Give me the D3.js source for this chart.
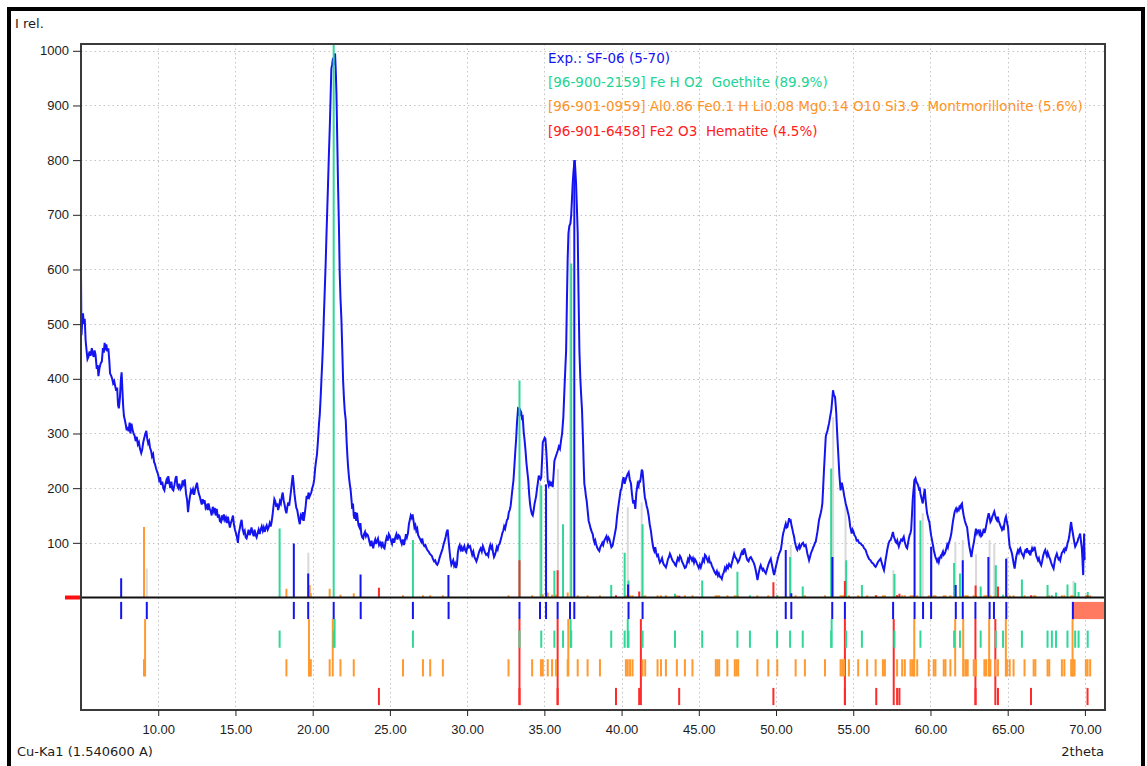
<!DOCTYPE html>
<html><head><meta charset="utf-8">
<script src="https://cdn.jsdelivr.net/npm/d3@7"></script>
<style>body{margin:0;background:#fff;}svg{display:block;font-family:"DejaVu Sans",Verdana,sans-serif;}</style>
</head><body><svg id="c" width="1147" height="766"></svg>
<script>
// ---------- DATA ----------
const xTicks = [10, 15, 20, 25, 30, 35, 40, 45, 50, 55, 60, 65, 70];
const yTicks = [100, 200, 300, 400, 500, 600, 700, 800, 900, 1000];
const legendLines = [
  "Exp.: SF-06 (5-70)",
  "[96-900-2159] Fe H O2  Goethite (89.9%)",
  "[96-901-0959] Al0.86 Fe0.1 H Li0.08 Mg0.14 O10 Si3.9  Montmorillonite (5.6%)",
  "[96-901-6458] Fe2 O3  Hematite (4.5%)"
];
const rowNames = ["peaks", "goethite", "montmorillonite", "hematite"];

// experimental pattern [2theta, I rel.]
const expPattern = [
[5.00,590],[5.03,480],[5.08,505],[5.13,520],[5.18,500],[5.24,510],[5.30,470],[5.36,452],[5.42,436],[5.48,440],[5.55,450],[5.62,442],[5.70,456],[5.76,446],[5.82,440],[5.88,452],[5.94,444],[6.02,418],[6.08,425],[6.13,405],[6.20,420],[6.27,428],[6.35,432],[6.42,456],[6.48,448],[6.53,466],[6.58,452],[6.64,463],[6.70,450],[6.77,456],[6.84,430],[6.88,410],[6.95,406],[7.02,400],[7.08,392],[7.15,396],[7.22,386],[7.28,378],[7.34,384],[7.40,352],[7.45,346],[7.52,365],[7.58,398],[7.63,412],[7.68,380],[7.73,350],[7.78,332],[7.83,326],[7.90,316],[7.96,306],[8.02,312],[8.08,304],[8.15,320],[8.20,300],[8.27,318],[8.33,308],[8.40,300],[8.47,296],[8.54,286],[8.61,294],[8.68,280],[8.75,284],[8.82,272],[8.90,264],[8.96,270],[9.03,284],[9.10,292],[9.17,300],[9.23,305],[9.29,290],[9.35,282],[9.41,286],[9.47,274],[9.54,268],[9.60,258],[9.67,262],[9.73,248],[9.79,244],[9.86,236],[9.93,230],[10.00,224],[10.06,215],[10.12,220],[10.19,206],[10.26,212],[10.33,200],[10.40,196],[10.46,206],[10.53,214],[10.59,208],[10.65,222],[10.72,210],[10.78,200],[10.85,212],[10.92,198],[10.98,196],[11.05,206],[11.12,218],[11.18,222],[11.24,204],[11.30,200],[11.37,208],[11.44,198],[11.52,202],[11.58,214],[11.65,208],[11.72,216],[11.80,190],[11.87,178],[11.93,156],[11.99,172],[12.06,186],[12.12,196],[12.18,192],[12.25,198],[12.32,188],[12.38,196],[12.45,204],[12.51,210],[12.57,198],[12.63,190],[12.70,184],[12.76,176],[12.82,170],[12.88,180],[12.94,172],[13.00,178],[13.07,164],[13.14,168],[13.20,160],[13.26,172],[13.33,162],[13.40,158],[13.46,150],[13.53,166],[13.60,158],[13.66,164],[13.72,150],[13.79,162],[13.86,146],[13.92,152],[13.99,140],[14.06,138],[14.12,150],[14.19,144],[14.25,152],[14.32,142],[14.38,146],[14.44,136],[14.51,148],[14.57,138],[14.64,128],[14.70,136],[14.77,142],[14.84,150],[14.90,134],[14.97,124],[15.03,118],[15.10,110],[15.16,100],[15.22,118],[15.28,126],[15.34,136],[15.40,142],[15.46,126],[15.53,118],[15.60,122],[15.66,110],[15.72,108],[15.79,116],[15.85,124],[15.92,114],[15.98,120],[16.04,128],[16.11,118],[16.18,112],[16.24,124],[16.31,114],[16.37,110],[16.44,118],[16.50,124],[16.57,116],[16.63,124],[16.70,130],[16.77,122],[16.83,128],[16.90,120],[16.96,128],[17.02,132],[17.09,124],[17.15,128],[17.22,136],[17.28,130],[17.34,138],[17.40,150],[17.46,166],[17.52,180],[17.58,176],[17.64,166],[17.70,172],[17.76,160],[17.82,166],[17.88,176],[17.94,172],[18.00,184],[18.06,192],[18.12,178],[18.18,170],[18.24,160],[18.30,154],[18.36,166],[18.42,174],[18.48,168],[18.54,182],[18.60,196],[18.66,212],[18.71,224],[18.76,210],[18.82,190],[18.88,176],[18.94,164],[19.00,160],[19.06,150],[19.12,140],[19.17,134],[19.23,150],[19.30,146],[19.36,156],[19.42,140],[19.49,154],[19.55,168],[19.61,186],[19.67,180],[19.73,192],[19.79,184],[19.85,188],[19.91,192],[19.97,200],[20.04,206],[20.10,216],[20.16,236],[20.22,250],[20.28,262],[20.35,290],[20.41,318],[20.46,335],[20.52,368],[20.57,400],[20.62,430],[20.67,465],[20.72,510],[20.78,560],[20.84,610],[20.89,660],[20.94,705],[20.99,752],[21.05,810],[21.11,862],[21.16,915],[21.21,967],[21.26,975],[21.32,987],[21.38,974],[21.42,990],[21.45,995],[21.50,960],[21.54,921],[21.59,840],[21.64,758],[21.70,680],[21.75,594],[21.80,548],[21.86,509],[21.92,450],[21.97,397],[22.03,362],[22.08,340],[22.14,325],[22.20,284],[22.25,258],[22.29,240],[22.35,220],[22.40,208],[22.46,196],[22.51,180],[22.56,162],[22.61,172],[22.66,150],[22.71,144],[22.76,156],[22.82,140],[22.87,155],[22.92,142],[22.97,132],[23.03,128],[23.09,136],[23.15,116],[23.21,110],[23.27,108],[23.33,116],[23.39,120],[23.45,112],[23.51,116],[23.57,114],[23.63,108],[23.69,100],[23.75,94],[23.81,104],[23.87,96],[23.92,90],[23.98,100],[24.05,106],[24.11,98],[24.17,104],[24.23,108],[24.30,96],[24.37,100],[24.44,94],[24.51,102],[24.58,92],[24.65,90],[24.72,102],[24.79,110],[24.86,104],[24.93,116],[25.00,112],[25.07,104],[25.14,98],[25.21,108],[25.28,100],[25.35,110],[25.42,116],[25.49,106],[25.56,114],[25.63,112],[25.70,104],[25.77,98],[25.84,106],[25.91,96],[25.97,104],[26.04,116],[26.10,110],[26.17,118],[26.23,134],[26.29,142],[26.35,150],[26.41,146],[26.47,152],[26.53,140],[26.59,128],[26.65,132],[26.71,122],[26.77,126],[26.83,114],[26.90,110],[26.97,106],[27.03,102],[27.09,108],[27.16,98],[27.23,94],[27.30,96],[27.37,90],[27.44,86],[27.51,84],[27.58,80],[27.65,78],[27.72,76],[27.79,70],[27.86,66],[27.93,68],[28.00,62],[28.07,60],[28.14,64],[28.21,72],[28.28,78],[28.35,84],[28.42,90],[28.48,98],[28.55,104],[28.62,112],[28.68,120],[28.74,124],[28.80,104],[28.86,86],[28.92,70],[28.98,60],[29.04,64],[29.10,68],[29.16,58],[29.22,62],[29.28,54],[29.34,60],[29.40,82],[29.46,92],[29.52,96],[29.58,88],[29.64,92],[29.70,84],[29.76,90],[29.82,94],[29.88,86],[29.94,83],[30.00,90],[30.06,96],[30.12,92],[30.19,94],[30.26,86],[30.33,78],[30.40,84],[30.47,74],[30.54,70],[30.60,66],[30.67,72],[30.74,80],[30.81,86],[30.88,90],[30.95,84],[31.02,94],[31.09,88],[31.16,82],[31.23,78],[31.30,80],[31.37,76],[31.44,90],[31.50,96],[31.56,90],[31.62,94],[31.68,82],[31.74,74],[31.80,78],[31.86,84],[31.92,92],[31.98,88],[32.04,96],[32.10,98],[32.16,104],[32.22,110],[32.28,118],[32.34,122],[32.40,130],[32.46,126],[32.52,134],[32.58,142],[32.64,144],[32.70,156],[32.76,160],[32.82,168],[32.88,184],[32.94,200],[33.00,214],[33.06,240],[33.12,268],[33.17,288],[33.23,320],[33.30,346],[33.35,345],[33.40,332],[33.45,342],[33.50,339],[33.55,328],[33.60,330],[33.66,304],[33.72,288],[33.78,269],[33.84,246],[33.90,230],[33.96,214],[34.02,188],[34.08,170],[34.14,159],[34.20,152],[34.25,150],[34.31,160],[34.37,172],[34.43,180],[34.47,186],[34.53,200],[34.59,212],[34.64,223],[34.70,218],[34.75,216],[34.80,220],[34.86,256],[34.90,284],[34.96,288],[35.02,292],[35.07,290],[35.12,270],[35.16,250],[35.22,214],[35.29,205],[35.35,210],[35.41,204],[35.47,212],[35.54,202],[35.60,226],[35.65,250],[35.72,256],[35.79,262],[35.87,269],[35.94,276],[36.01,272],[36.08,287],[36.15,300],[36.23,330],[36.30,380],[36.36,420],[36.41,452],[36.46,540],[36.51,620],[36.56,666],[36.62,680],[36.69,684],[36.74,700],[36.79,730],[36.84,760],[36.89,780],[36.94,795],[36.97,800],[37.01,780],[37.05,760],[37.10,720],[37.16,666],[37.21,560],[37.27,452],[37.33,400],[37.38,372],[37.44,342],[37.50,290],[37.55,240],[37.59,208],[37.64,198],[37.69,186],[37.74,177],[37.80,160],[37.87,140],[37.93,134],[38.00,126],[38.07,120],[38.13,116],[38.19,106],[38.25,100],[38.30,104],[38.35,98],[38.41,92],[38.48,88],[38.56,85],[38.62,92],[38.69,96],[38.75,100],[38.81,96],[38.88,104],[38.95,108],[39.02,112],[39.08,104],[39.15,110],[39.21,107],[39.27,100],[39.34,92],[39.42,95],[39.48,104],[39.55,114],[39.64,128],[39.70,146],[39.76,160],[39.82,172],[39.88,184],[39.94,196],[40.00,200],[40.07,214],[40.13,220],[40.20,208],[40.28,217],[40.34,222],[40.40,226],[40.46,229],[40.53,216],[40.61,208],[40.67,190],[40.72,178],[40.76,172],[40.82,178],[40.89,162],[40.95,190],[41.00,200],[41.04,208],[41.10,204],[41.15,214],[41.19,210],[41.25,220],[41.31,234],[41.36,230],[41.41,214],[41.46,196],[41.51,183],[41.57,176],[41.62,168],[41.68,162],[41.75,150],[41.82,134],[41.90,122],[41.96,108],[42.02,96],[42.08,88],[42.12,85],[42.18,92],[42.24,82],[42.30,76],[42.36,78],[42.42,70],[42.48,64],[42.55,67],[42.62,72],[42.68,64],[42.74,60],[42.80,58],[42.87,55],[42.94,62],[43.00,70],[43.07,74],[43.13,80],[43.19,76],[43.26,70],[43.33,66],[43.40,64],[43.46,60],[43.52,58],[43.58,66],[43.64,72],[43.71,68],[43.78,76],[43.84,73],[43.91,66],[43.98,62],[44.04,58],[44.10,54],[44.16,55],[44.23,62],[44.30,70],[44.36,66],[44.42,76],[44.49,73],[44.56,68],[44.62,72],[44.69,64],[44.75,70],[44.81,67],[44.88,62],[44.94,58],[45.00,54],[45.07,60],[45.13,55],[45.20,62],[45.27,70],[45.34,66],[45.40,78],[45.46,76],[45.53,70],[45.59,66],[45.66,72],[45.72,64],[45.78,64],[45.85,58],[45.91,54],[45.97,50],[46.03,46],[46.10,43],[46.17,48],[46.24,40],[46.30,44],[46.37,38],[46.43,37],[46.49,34],[46.55,42],[46.62,46],[46.69,54],[46.75,50],[46.82,58],[46.89,54],[46.96,61],[47.02,58],[47.08,56],[47.15,64],[47.22,72],[47.29,80],[47.36,74],[47.45,70],[47.53,64],[47.61,68],[47.68,74],[47.74,80],[47.80,84],[47.87,78],[47.94,90],[48.00,84],[48.05,78],[48.10,72],[48.15,68],[48.22,66],[48.29,72],[48.37,74],[48.44,70],[48.51,66],[48.58,62],[48.64,56],[48.70,48],[48.75,40],[48.80,32],[48.86,42],[48.92,50],[48.97,56],[49.01,59],[49.07,54],[49.13,50],[49.18,52],[49.25,48],[49.34,44],[49.42,52],[49.50,60],[49.58,66],[49.66,71],[49.72,62],[49.77,55],[49.83,46],[49.88,41],[49.93,48],[49.98,55],[50.04,62],[50.09,68],[50.14,74],[50.20,80],[50.26,84],[50.31,87],[50.37,98],[50.42,110],[50.47,118],[50.52,123],[50.58,130],[50.63,135],[50.69,128],[50.74,129],[50.80,138],[50.85,145],[50.90,140],[50.95,141],[51.00,132],[51.06,125],[51.11,118],[51.17,111],[51.22,102],[51.28,95],[51.33,90],[51.38,87],[51.44,92],[51.50,96],[51.55,90],[51.60,93],[51.67,98],[51.75,100],[51.83,94],[51.92,96],[51.98,88],[52.03,80],[52.09,74],[52.14,68],[52.20,74],[52.25,80],[52.30,84],[52.35,87],[52.41,92],[52.46,95],[52.52,100],[52.57,102],[52.62,110],[52.68,120],[52.73,130],[52.78,141],[52.84,148],[52.90,155],[52.95,162],[53.00,172],[53.05,200],[53.10,230],[53.16,262],[53.22,294],[53.27,300],[53.33,305],[53.38,312],[53.43,318],[53.50,330],[53.58,343],[53.64,362],[53.69,379],[53.75,370],[53.82,367],[53.87,350],[53.90,337],[53.96,300],[54.03,263],[54.10,225],[54.18,196],[54.26,210],[54.34,199],[54.38,192],[54.42,185],[54.46,180],[54.51,172],[54.57,166],[54.62,160],[54.67,154],[54.72,148],[54.76,140],[54.80,130],[54.85,124],[54.90,117],[54.96,124],[55.02,120],[55.08,114],[55.15,111],[55.22,104],[55.30,105],[55.38,100],[55.48,99],[55.55,96],[55.62,95],[55.70,90],[55.80,87],[55.88,80],[55.95,75],[56.03,70],[56.12,68],[56.20,64],[56.30,62],[56.38,58],[56.45,56],[56.52,60],[56.60,65],[56.68,68],[56.77,71],[56.82,66],[56.88,60],[56.94,54],[56.99,50],[57.05,60],[57.10,70],[57.15,78],[57.20,87],[57.25,94],[57.30,100],[57.36,104],[57.42,105],[57.50,112],[57.57,120],[57.61,114],[57.65,110],[57.70,106],[57.74,102],[57.80,100],[57.85,104],[57.90,98],[57.95,93],[58.02,100],[58.10,106],[58.17,104],[58.22,108],[58.27,111],[58.33,102],[58.39,96],[58.44,92],[58.49,90],[58.55,100],[58.60,108],[58.65,114],[58.70,117],[58.75,124],[58.80,150],[58.85,178],[58.90,196],[58.95,210],[58.99,216],[59.03,218],[59.08,212],[59.14,209],[59.20,205],[59.26,198],[59.31,199],[59.35,190],[59.40,184],[59.45,178],[59.50,172],[59.56,186],[59.63,199],[59.68,180],[59.73,166],[59.78,154],[59.83,148],[59.88,142],[59.93,138],[59.99,124],[60.04,114],[60.10,105],[60.16,96],[60.22,86],[60.27,80],[60.32,74],[60.38,70],[60.43,66],[60.49,70],[60.54,65],[60.60,72],[60.66,76],[60.71,74],[60.75,80],[60.81,84],[60.86,78],[60.92,80],[60.97,84],[61.03,90],[61.08,96],[61.13,92],[61.18,99],[61.24,104],[61.30,110],[61.35,117],[61.40,128],[61.46,140],[61.51,148],[61.56,156],[61.61,160],[61.66,163],[61.72,158],[61.78,162],[61.83,160],[61.88,166],[61.94,164],[61.99,170],[62.04,172],[62.09,160],[62.15,150],[62.22,141],[62.27,136],[62.32,132],[62.37,129],[62.42,116],[62.47,104],[62.52,93],[62.58,84],[62.65,74],[62.71,86],[62.76,94],[62.80,99],[62.85,108],[62.90,118],[62.95,126],[63.01,118],[63.06,122],[63.12,123],[63.17,116],[63.23,120],[63.28,112],[63.34,114],[63.40,120],[63.45,126],[63.50,118],[63.55,123],[63.61,132],[63.66,140],[63.72,148],[63.77,154],[63.83,146],[63.88,138],[63.94,141],[64.00,148],[64.06,152],[64.13,157],[64.19,150],[64.25,144],[64.31,141],[64.36,148],[64.42,140],[64.47,136],[64.52,132],[64.58,128],[64.63,124],[64.69,128],[64.74,123],[64.79,136],[64.84,144],[64.89,148],[64.95,138],[65.02,129],[65.07,110],[65.13,93],[65.20,88],[65.28,80],[65.34,70],[65.40,60],[65.45,53],[65.50,64],[65.55,74],[65.60,80],[65.66,86],[65.72,82],[65.77,88],[65.81,90],[65.87,84],[65.92,80],[65.97,78],[66.03,74],[66.09,82],[66.14,86],[66.20,84],[66.25,90],[66.30,84],[66.36,82],[66.41,86],[66.46,77],[66.52,84],[66.58,90],[66.63,86],[66.69,88],[66.74,93],[66.80,84],[66.85,76],[66.91,72],[66.96,68],[67.02,72],[67.07,66],[67.12,62],[67.17,59],[67.23,66],[67.28,74],[67.33,80],[67.38,84],[67.43,87],[67.49,80],[67.54,76],[67.59,82],[67.64,78],[67.69,74],[67.75,70],[67.81,64],[67.86,60],[67.92,56],[67.97,53],[68.02,62],[68.08,72],[68.13,76],[68.18,80],[68.24,74],[68.29,70],[68.35,72],[68.40,68],[68.46,76],[68.51,82],[68.57,84],[68.62,87],[68.67,84],[68.73,90],[68.78,88],[68.83,93],[68.88,100],[68.93,104],[68.98,111],[69.03,122],[69.08,134],[69.11,138],[69.15,128],[69.19,122],[69.22,117],[69.27,108],[69.32,100],[69.37,93],[69.42,96],[69.47,100],[69.52,102],[69.57,108],[69.63,112],[69.69,117],[69.74,104],[69.80,90],[69.84,70],[69.87,50],[69.89,41],[69.91,80],[69.93,100],[69.95,117],[69.96,96],[69.98,68]
];

// Goethite sticks [2theta, I]
const goethiteSticks = [[17.86,126],[21.36,1015],[26.49,105],[33.39,397],[34.80,205],[35.65,49],[36.21,134],[36.74,611],[39.33,23],[40.20,82],[40.45,31],[41.36,134],[43.46,7],[45.22,31],[47.50,47],[48.31,4],[50.07,4],[50.91,74],[51.73,20],[53.57,236],[54.54,68],[55.56,23],[57.67,43],[59.35,141],[61.53,63],[61.91,44],[63.25,20],[64.23,59],[64.70,5],[65.92,33],[67.58,23],[67.86,4],[68.13,9],[68.87,24],[69.37,27],[69.59,10],[70.18,10]];
// Montmorillonite sticks
const montSticks = [[9.08,129],[18.30,16],[19.81,23],[19.88,8],[21.10,16],[21.80,5],[22.66,8],[25.85,4],[27.14,4],[27.61,4],[28.43,4],[32.68,4],[34.21,4],[34.78,6],[34.90,6],[35.22,9],[35.50,5],[35.76,5],[36.51,9],[37.16,4],[37.80,4],[38.60,4],[40.28,4],[40.40,4],[40.55,4],[40.71,4],[41.36,4],[41.53,4],[42.33,4],[42.55,4],[42.87,4],[43.58,4],[44.10,4],[44.59,4],[46.10,4],[46.21,4],[46.32,4],[46.85,4],[47.33,4],[47.44,4],[47.55,4],[48.79,4],[49.50,4],[50.08,4],[51.27,4],[51.87,4],[53.17,4],[54.18,4],[54.29,4],[54.40,4],[54.72,4],[55.32,4],[55.90,4],[56.45,4],[56.92,4],[57.05,4],[57.84,4],[58.17,4],[58.34,4],[58.71,4],[58.82,4],[58.93,4],[59.14,4],[59.89,4],[60.21,4],[60.32,4],[60.86,4],[60.97,4],[61.29,4],[62.15,4],[62.30,4],[62.41,4],[62.80,4],[62.95,4],[63.49,4],[63.60,4],[63.77,4],[63.88,4],[64.20,4],[64.37,4],[64.95,4],[65.13,4],[65.38,4],[66.09,4],[66.68,4],[66.79,4],[67.58,4],[67.69,4],[68.51,4],[68.67,4],[69.11,4],[69.22,4],[69.33,4],[70.06,4],[70.17,4],[70.34,4]];
// Hematite sticks
const hemSticks = [[24.29,18],[33.39,68],[35.86,50],[39.64,4],[41.14,11],[43.73,3],[49.83,28],[54.46,30],[56.49,4],[57.84,4],[57.99,7],[62.92,22],[64.37,20],[66.51,4],[70.17,4]];
// Grey (unassigned) sticks
const greySticks = [[9.26,53],[19.72,82],[34.72,210],[35.88,235],[36.67,690],[40.40,165],[41.30,174],[50.95,96],[53.70,330],[54.50,172],[57.60,50],[59.50,154],[60.10,94],[61.61,102],[62.09,105],[62.95,79],[63.83,105],[64.13,98],[64.95,74],[69.26,30]];
// Blue peak sticks in upper panel
const peakSticks = [[7.60,35],[18.78,99],[19.71,44],[23.10,42],[28.79,41],[35.11,207],[36.94,800],[40.42,24],[50.63,87],[50.99,8],[53.65,74],[58.97,216],[60.04,93],[61.63,23],[62.09,68],[63.75,74],[64.90,71]];
// Peak marker positions (lower panel, row 1)
const peakMarkers = [7.60,9.26,18.78,19.71,21.36,23.11,26.49,28.80,33.39,34.72,35.11,35.86,36.66,36.94,40.45,41.36,50.63,50.99,53.64,54.46,57.58,58.97,59.52,60.04,61.64,62.09,62.91,63.83,64.11,64.91,69.22];
// Peak-to-phase match connectors
const matches = [[9.15,"montmorillonite"],[19.76,"montmorillonite"],[21.30,"montmorillonite"],[21.42,"goethite"],[33.39,"hematite"],[35.86,"hematite"],[36.55,"montmorillonite"],[36.70,"goethite"],[40.40,"goethite"],[41.25,"hematite"],[53.60,"goethite"],[54.46,"hematite"],[57.62,"hematite"],[58.95,"montmorillonite"],[61.60,"montmorillonite"],[62.12,"montmorillonite"],[62.91,"hematite"],[63.80,"montmorillonite"],[64.20,"hematite"],[64.88,"montmorillonite"],[69.20,"montmorillonite"]];

// ---------- DRAWING ----------
const C = {blue:"#1414f0", goe:"#2fd898", mont:"#ff9a30", hem:"#ff2a2a", grey:"#d9d9d9", text:"#1c1c1c"};
const phaseColor = {goethite:C.goe, montmorillonite:C.mont, hematite:C.hem, peaks:C.blue};
const svg = d3.select("#c");
const L=81, R=1105, T=44, B=710;
const x = d3.scaleLinear().domain([5, 71.3]).range([L, R]);
const y = d3.scaleLinear().domain([0, 1000]).range([597.5, 50.8]);
const row = d3.scalePoint().domain(rowNames).range([610.5, 696.5]);
const half = 8.6;

svg.append("rect").attr("width",1147).attr("height",766).attr("fill","#fff");
svg.append("defs").append("clipPath").attr("id","up").append("rect")
  .attr("x",L).attr("y",T).attr("width",R-L).attr("height",597.5-T);

// grid
const grid = svg.append("g").attr("stroke","#c4c4c4").attr("stroke-width",1).attr("stroke-dasharray","1.5,3");
grid.selectAll(".gy").data(yTicks).join("line").attr("x1",L).attr("x2",R)
  .attr("y1",d=>Math.round(y(d))+0.5).attr("y2",d=>Math.round(y(d))+0.5);
grid.selectAll(".gx").data(xTicks).join("line").attr("y1",T).attr("y2",B)
  .attr("x1",d=>Math.round(x(d))+0.5).attr("x2",d=>Math.round(x(d))+0.5);

const up = svg.append("g").attr("clip-path","url(#up)");
function sticks(data, color, w) {
  up.append("g").selectAll("line").data(data).join("line")
    .attr("x1",d=>x(d[0])).attr("x2",d=>x(d[0]))
    .attr("y1",y(0)).attr("y2",d=>y(d[1]))
    .attr("stroke",color).attr("stroke-width",w);
}
sticks(greySticks, C.grey, 2);
// curve
up.append("path").datum(expPattern)
  .attr("d", d3.line().x(d=>x(d[0])).y(d=>y(d[1])))
  .attr("fill","none").attr("stroke",C.blue).attr("stroke-width",2).attr("stroke-linejoin","miter");
sticks(montSticks, C.mont, 2);
sticks(goethiteSticks, C.goe, 2);
sticks(hemSticks, C.hem, 2);
sticks(peakSticks, C.blue, 2);

// lower panel
const low = svg.append("g");
low.append("rect").attr("x",x(69.22)).attr("y",row("peaks")-half).attr("width",R-x(69.22)).attr("height",2*half).attr("fill","#ff7a60");
low.selectAll(".m").data(matches).join("line")
  .attr("x1",d=>x(d[0])).attr("x2",d=>x(d[0]))
  .attr("y1",row("peaks")+half).attr("y2",d=>row(d[1])+half)
  .attr("stroke",d=>phaseColor[d[1]]).attr("stroke-width",2);
function rowTicks(data, name) {
  low.append("g").selectAll("line").data(data).join("line")
    .attr("x1",d=>x(d)).attr("x2",d=>x(d))
    .attr("y1",row(name)-half).attr("y2",row(name)+half)
    .attr("stroke",phaseColor[name]).attr("stroke-width",2);
}
rowTicks(peakMarkers, "peaks");
rowTicks(goethiteSticks.map(d=>d[0]), "goethite");
rowTicks(montSticks.map(d=>d[0]), "montmorillonite");
rowTicks(hemSticks.map(d=>d[0]), "hematite");

// zero line
svg.append("line").attr("x1",L).attr("x2",R).attr("y1",y(0)).attr("y2",y(0)).attr("stroke","#111").attr("stroke-width",2);
svg.append("rect").attr("x",65).attr("y",y(0)-2).attr("width",16).attr("height",4).attr("fill","#ff1010");

// plot frame
svg.append("rect").attr("x",L).attr("y",T).attr("width",R-L).attr("height",B-T)
  .attr("fill","none").attr("stroke","#3a3a3a").attr("stroke-width",2);

// axes
const ya = svg.append("g").attr("transform",`translate(${L},0)`)
  .call(d3.axisLeft(y).tickValues(yTicks).tickFormat(d3.format("d")).tickSize(8).tickPadding(4));
ya.select(".domain").remove();
ya.selectAll("line").attr("stroke","#222");
ya.selectAll("text").attr("font-size",13).attr("fill",C.text).attr("font-family",null);
const xa = svg.append("g").attr("transform",`translate(0,${B})`)
  .call(d3.axisBottom(x).tickValues(xTicks).tickFormat(d=>d.toFixed(2)).tickSize(6).tickPadding(9));
xa.select(".domain").remove();
xa.selectAll("line").attr("stroke","#222");
xa.selectAll("text").attr("font-size",13).attr("fill",C.text).attr("font-family",null);

// labels
svg.append("text").attr("x",15).attr("y",28).attr("font-size",13).attr("fill",C.text).text("I rel.");
svg.append("text").attr("x",17).attr("y",756).attr("font-size",13).attr("fill",C.text).text("Cu-Ka1 (1.540600 A)");
svg.append("text").attr("x",1104).attr("y",756).attr("text-anchor","end").attr("font-size",13).attr("fill",C.text).text("2theta");

// legend
const legColors = [C.blue, "#22d494", "#ff9326", "#ff2020"];
svg.append("g").selectAll("text").data(legendLines).join("text")
  .attr("x",548).attr("y",(d,i)=>63+i*24.2)
  .attr("font-size",13.5).attr("fill",(d,i)=>legColors[i])
  .style("white-space","pre").text(d=>d);

// outer frame
svg.append("rect").attr("x",9).attr("y",9).attr("width",1134).attr("height",800)
  .attr("fill","none").attr("stroke","#000").attr("stroke-width",4);
</script></body></html>
